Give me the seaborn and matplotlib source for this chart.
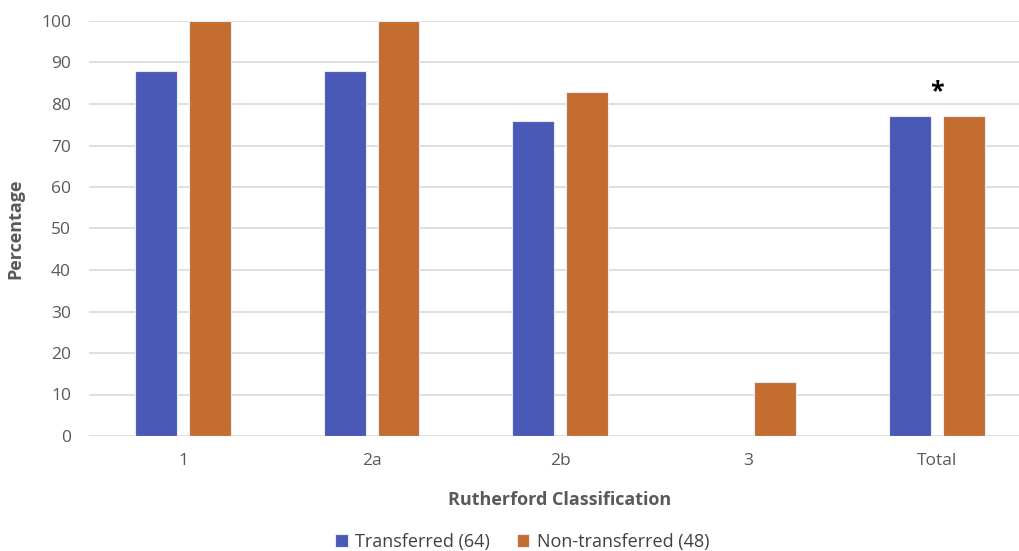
import pandas as pd
import matplotlib.pyplot as plt
import seaborn as sns

# Data
categories = ['1', '2a', '2b', '3', 'Total']
transferred = [88, 88, 76, 0, 77]
non_transferred = [100, 100, 83, 13, 77]
series_names = ['Transferred (64)', 'Non-transferred (48)']

df = pd.DataFrame({
    'Rutherford Classification': categories * 2,
    'Percentage': transferred + non_transferred,
    'Group': [series_names[0]] * len(categories) + [series_names[1]] * len(categories),
})

sns.set_style('white')
plt.rcParams['font.family'] = ['Open Sans', 'DejaVu Sans']

fig = plt.figure(figsize=(10.2, 5.51), dpi=100)
ax = fig.add_axes([89 / 1020, 1 - 436 / 551, 942 / 1020, 415 / 551])

palette = {series_names[0]: '#4A59B5', series_names[1]: '#C46D30'}
sns.barplot(data=df, x='Rutherford Classification', y='Percentage', hue='Group',
            palette=palette, saturation=1, width=0.57, gap=0.22, ax=ax,
            edgecolor='#E8ECF8', linewidth=0.8, zorder=3)

ax.set_ylim(0, 100)
ax.set_xlim(-0.5, 4.5)
ax.set_yticks(range(0, 101, 10))
ax.yaxis.grid(True, color='#D9D9D9', linewidth=1.2, zorder=0)
ax.set_axisbelow(True)
for s in ax.spines.values():
    s.set_visible(False)
ax.tick_params(axis='both', length=0, labelsize=12.5, colors='#595959')
ax.tick_params(axis='x', pad=12)
ax.tick_params(axis='y', pad=13)

ax.set_xlabel('Rutherford Classification', fontsize=13, fontweight='bold',
              color='#595959', labelpad=16)
ax.set_ylabel('Percentage', fontsize=13, fontweight='bold', color='#595959', labelpad=12)

# significance marker above the Total group
ax.text(4, 83, '*', ha='center', va='center', fontsize=18, fontweight='bold', color='black')

ax.legend_.remove()
handles, labels = ax.get_legend_handles_labels()
fig.legend(handles, labels, loc='center', bbox_to_anchor=(522 / 1020, 1 - 542 / 551),
           ncol=2, frameon=False, fontsize=13, handlelength=0.7, handleheight=0.7,
           handletextpad=0.4, columnspacing=1.5, labelcolor='#404040')

plt.savefig('out.png', dpi=100)
